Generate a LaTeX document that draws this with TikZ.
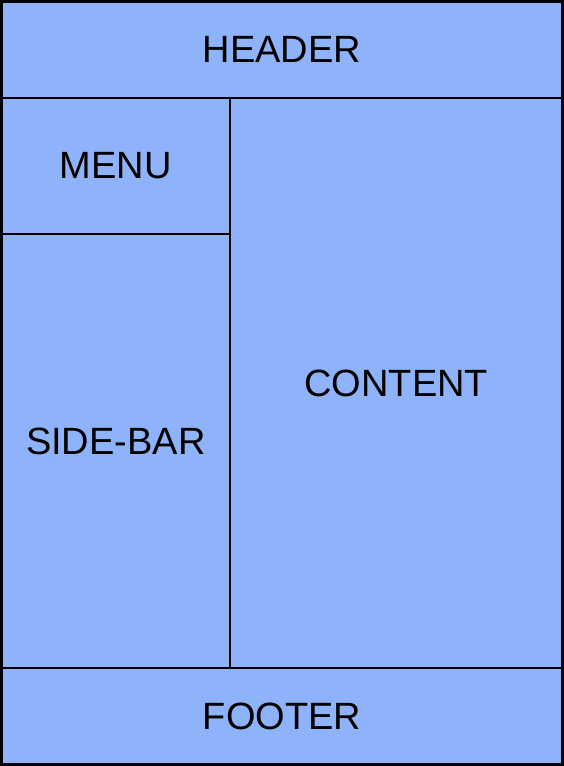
\documentclass[tikz,border=0pt]{standalone}
\usepackage{fontspec}
\setmainfont{Liberation Sans}
\definecolor{panelblue}{RGB}{143,179,250}
\begin{document}
\begin{tikzpicture}[x=1pt,y=1pt,
  panel/.style={draw=black, fill=panelblue, line width=2.8pt, inner sep=0pt, outer sep=0pt,
    font=\fontsize{38}{41}\selectfont, text=black}]
\useasboundingbox (0,0) rectangle (564,-766);
\node[panel, minimum width=561, minimum height=96.5] (header) at (282,-49.75) {HEADER};
\node[panel, minimum width=228.5, minimum height=136] (menu) at (115.75,-166) {MENU};
\node[panel, minimum width=228.5, minimum height=434,
  label={[font=\fontsize{38}{41}\selectfont, inner sep=0pt, yshift=10pt]center:SIDE-BAR}] (sidebar) at (115.75,-451) {};
\node[panel, minimum width=332.5, minimum height=570] (content) at (396.25,-383) {CONTENT};
\node[panel, minimum width=561, minimum height=96.5] (footer) at (282,-716.25) {FOOTER};
\draw[line width=3pt] (1.5,-1.5) rectangle (562.5,-764.5);
\end{tikzpicture}
\end{document}
